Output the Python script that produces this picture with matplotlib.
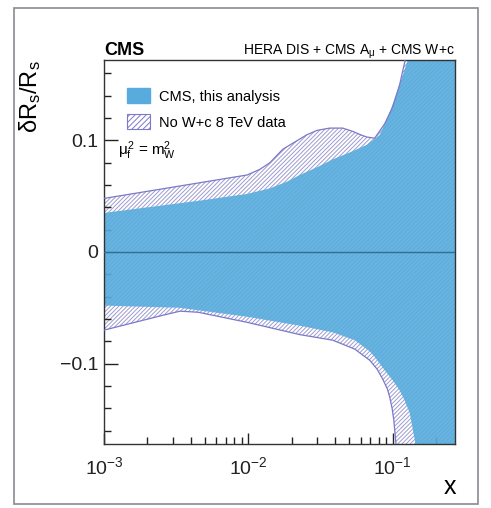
import matplotlib
matplotlib.use('Agg')
import matplotlib.pyplot as plt
from matplotlib.patches import Patch, Rectangle

plt.rcParams['font.family'] = ['Liberation Sans', 'DejaVu Sans']
plt.rcParams['mathtext.fontset'] = 'custom'
plt.rcParams['mathtext.rm'] = 'Liberation Sans'
plt.rcParams['mathtext.it'] = 'Liberation Sans'
plt.rcParams['mathtext.bf'] = 'Liberation Sans:bold'
plt.rcParams['hatch.linewidth'] = 0.7

# CMS, this analysis (blue band)
x_blue_up = [0.001, 0.0046, 0.0098, 0.0141, 0.0185, 0.0227, 0.03, 0.0384, 0.05, 0.0661, 0.0813, 0.0953, 0.1117, 0.127, 0.135, 0.3]
blue_up = [0.035, 0.046, 0.052, 0.057, 0.063, 0.069, 0.076, 0.083, 0.089, 0.096, 0.105, 0.125, 0.150, 0.172, 0.19, 0.5]
x_blue_lo = [0.001, 0.00336, 0.0098, 0.0227, 0.0384, 0.0546, 0.0693, 0.075, 0.0881, 0.1, 0.1117, 0.12, 0.131, 0.142, 0.149, 0.3]
blue_lo = [-0.048, -0.050, -0.058, -0.066, -0.072, -0.079, -0.089, -0.094, -0.106, -0.115, -0.124, -0.132, -0.144, -0.168, -0.19, -0.5]

# No W+c 8 TeV data (hatched band)
x_hat_up = [0.001, 0.0098, 0.012, 0.0141, 0.0173, 0.0254, 0.03, 0.0366, 0.045, 0.0529, 0.06, 0.0661, 0.0750, 0.0881, 0.100, 0.1117, 0.121, 0.127, 0.3]
hat_up = [0.048, 0.069, 0.074, 0.080, 0.092, 0.105, 0.109, 0.111, 0.111, 0.108, 0.105, 0.103, 0.102, 0.115, 0.130, 0.150, 0.170, 0.19, 0.6]
x_hat_lo = [0.001, 0.0025, 0.00336, 0.0045, 0.0098, 0.0227, 0.0384, 0.0546, 0.0693, 0.078, 0.0853, 0.092, 0.0953, 0.099, 0.1016, 0.105, 0.107, 0.3]
hat_lo = [-0.070, -0.057, -0.053, -0.054, -0.063, -0.074, -0.079, -0.087, -0.097, -0.105, -0.114, -0.123, -0.130, -0.140, -0.150, -0.170, -0.19, -0.6]

blue = '#57acdd'
purple = '#7b79c9'
hatch_col = '#9d9cd0'

fig = plt.figure(figsize=(4.91, 5.08), dpi=100)
fig.patches.append(Rectangle((14/491, 4/508), 464/491, 496/508, transform=fig.transFigure,
                             fill=False, edgecolor='#8a8a92', linewidth=1.2))
ax = fig.add_axes([104/491, 1-444/508, 351/491, 384/508])

# hatched band first, blue on top lets the hatch shine through faintly
ax.fill(x_hat_up + x_hat_lo[::-1], hat_up + hat_lo[::-1], facecolor='white',
        hatch='////////', edgecolor=hatch_col, linewidth=0, zorder=1)
ax.fill(x_blue_up + x_blue_lo[::-1], blue_up + blue_lo[::-1], facecolor=blue,
        alpha=0.9, edgecolor='none', zorder=2)
ax.plot(x_hat_up, hat_up, color=purple, lw=0.9, zorder=3)
ax.plot(x_hat_lo, hat_lo, color=purple, lw=0.9, zorder=3)
ax.axhline(0, color='#2f6f96', lw=1.0, zorder=4)

ax.set_xscale('log')
ax.set_xlim(0.001, 0.27)
ax.set_ylim(-0.172, 0.172)

ax.set_xticks([0.001, 0.01, 0.1])
ax.set_xticklabels([r'$\mathregular{10^{-3}}$', r'$\mathregular{10^{-2}}$', r'$\mathregular{10^{-1}}$'])
ax.set_yticks([-0.1, 0, 0.1])
ax.set_yticklabels(['\u22120.1', '0', '0.1'])
ax.set_yticks([-0.16, -0.14, -0.12, -0.08, -0.06, -0.04, -0.02, 0.02, 0.04, 0.06, 0.08, 0.12, 0.14, 0.16], minor=True)
ax.tick_params(axis='both', which='both', direction='in', top=False, right=False, labelsize=14, colors='#222222')
ax.tick_params(axis='y', which='major', length=10, width=1, pad=4)
ax.tick_params(axis='y', which='minor', length=5, width=1)
ax.tick_params(axis='x', which='major', length=8, width=1, pad=9)
ax.tick_params(axis='x', which='minor', length=5, width=1)
for s in ax.spines.values():
    s.set_color('#333333')
    s.set_linewidth(1.0)

leg = ax.legend([Patch(facecolor=blue, edgecolor=blue),
                 Patch(facecolor='white', hatch='//////', edgecolor=purple, lw=0.8)],
                ['CMS, this analysis', 'No W+c 8 TeV data'],
                loc='upper left', bbox_to_anchor=(0.045, 0.945), frameon=False, borderpad=0,
                fontsize=10.5, handlelength=1.55, handleheight=1.2, handletextpad=0.65,
                labelspacing=0.72)
ax.text(0.04, 0.765, r'$\mu_{\rm f}^{2}$ = m$_{\rm W}^{2}$', transform=ax.transAxes,
        fontsize=11, va='center', ha='left')

fig.text(104/491, 1-55/508, 'CMS', fontsize=13, fontweight='bold', ha='left', va='baseline')
fig.text(455/491, 1-55/508, r'HERA DIS + CMS A$_{\mu}$ + CMS W+c', fontsize=10, ha='right', va='baseline')
fig.text(30/491, 1-60/508, r'$\delta$R$_{\rm s}$/R$_{\rm s}$', fontsize=17, rotation=90, ha='center', va='top')
fig.text(450/491, 1-487/508, 'x', fontsize=18, ha='center', va='center')

fig.savefig('out.png', dpi=100)
